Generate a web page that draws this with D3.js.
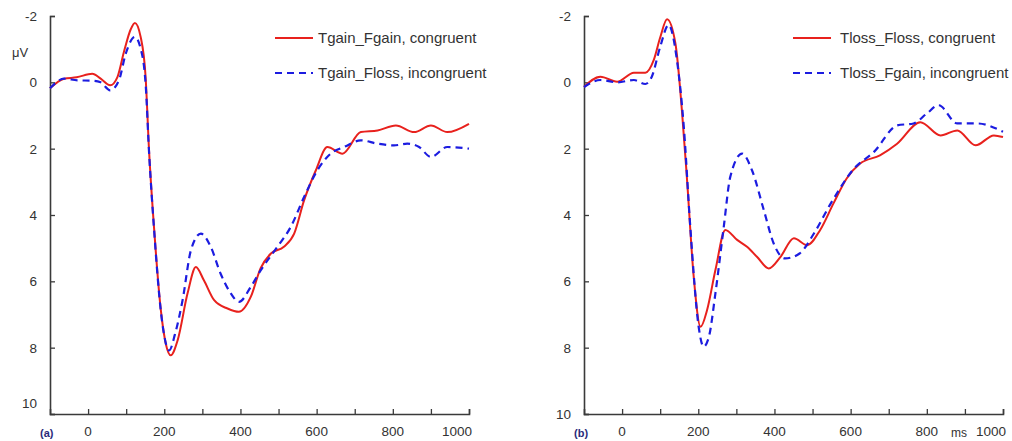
<!DOCTYPE html>
<html>
<head>
<meta charset="utf-8">
<script src="https://cdn.jsdelivr.net/npm/d3@7/dist/d3.min.js"></script>
<style>
  html, body { margin: 0; padding: 0; background: #fff; }
  svg { display: block; font-family: "Liberation Sans", Arial, sans-serif; }
</style>
</head>
<body>
<svg id="chart" width="1012" height="441"></svg>
<script>
// ERP waveforms: time (ms) and amplitude (µV, negative up)
const xTicks = [0, 100, 200, 300, 400, 500, 600, 700, 800, 900, 1000];
const xTickLabels = [0, 200, 400, 600, 800, 1000];
const yTicks = [-2, 0, 2, 4, 6, 8, 10];

// Panel (a)
const gainCongruentT = [-100, -63, -30, 11, 33, 58, 77, 95, 112, 123, 138, 151, 160, 173, 191, 204, 217, 235, 261, 283, 304, 331, 366, 396, 427, 453, 480, 514, 541, 567, 598, 628, 668, 716, 760, 808, 856, 900, 943, 1000];
const gainCongruentV = [0.18, -0.11, -0.15, -0.26, -0.11, 0.09, -0.16, -0.96, -1.6, -1.79, -1.37, -0.16, 2.05, 4.36, 6.87, 7.88, 8.23, 7.78, 6.37, 5.57, 5.97, 6.57, 6.82, 6.92, 6.47, 5.6, 5.16, 4.96, 4.56, 3.56, 2.65, 1.95, 2.15, 1.5, 1.45, 1.3, 1.5, 1.3, 1.5, 1.25];
const gainIncongruentT = [-100, -63, -28, 11, 33, 58, 81, 99, 123, 137, 151, 160, 173, 191, 213, 228, 248, 270, 296, 322, 348, 375, 396, 427, 453, 497, 532, 567, 602, 637, 672, 716, 760, 803, 838, 869, 900, 943, 1000];
const gainIncongruentV = [0.18, -0.11, -0.06, -0.05, 0, 0.24, -0.06, -0.87, -1.37, -1.06, 0.04, 2.1, 4.4, 6.9, 8.08, 7.6, 6.57, 5.06, 4.56, 4.96, 5.77, 6.37, 6.62, 6.17, 5.67, 4.96, 4.36, 3.46, 2.65, 2.15, 1.95, 1.75, 1.85, 1.9, 1.85, 1.95, 2.25, 1.95, 2.0];

// Panel (b)
const lossCongruentT = [-100, -57, -13, 31, 61, 83, 100, 118, 140, 157, 170, 188, 206, 223, 245, 271, 302, 328, 354, 385, 416, 451, 486, 520, 555, 590, 625, 677, 722, 783, 836, 880, 928, 976, 1000];
const lossCongruentV = [0.14, -0.17, -0.02, -0.29, -0.29, -0.67, -1.35, -1.9, -1.17, 0.84, 2.85, 5.86, 7.37, 6.87, 5.66, 4.45, 4.75, 4.96, 5.26, 5.61, 5.26, 4.7, 4.91, 4.45, 3.65, 2.89, 2.45, 2.2, 1.85, 1.2, 1.6, 1.45, 1.9, 1.6, 1.65];
const lossIncongruentT = [-100, -57, -13, 31, 61, 78, 100, 122, 144, 162, 179, 201, 214, 228, 245, 267, 284, 315, 341, 372, 398, 428, 466, 504, 548, 609, 662, 722, 765, 800, 831, 880, 932, 1000];
const lossIncongruentV = [0.14, -0.07, 0, -0.07, 0.05, -0.17, -1.07, -1.73, -0.67, 1.34, 4.35, 7.37, 7.97, 7.67, 6.36, 4.35, 2.85, 2.15, 2.65, 3.85, 4.86, 5.31, 5.16, 4.55, 3.65, 2.6, 2.09, 1.3, 1.24, 0.94, 0.69, 1.24, 1.24, 1.49];

const legendA = ["Tgain_Fgain, congruent", "Tgain_Floss, incongruent"];
const legendB = ["Tloss_Floss, congruent", "Tloss_Fgain, incongruent"];

const RED = "#e8211d";
const BLUE = "#1c1ce0";
const AXIS = "#3a3a3a";

const svg = d3.select("#chart");

const zip = (ts, vs) => ts.map((t, i) => [t, vs[i]]);

function drawPanel(cfg) {
  const x = d3.scaleLinear().domain([-100, 1000]).range([cfg.left, cfg.right]);
  const y = d3.scaleLinear().domain([-2, 10]).range([16, 414]);
  const g = svg.append("g");

  const line = d3.line()
    .x(d => x(d[0]))
    .y(d => y(d[1]))
    .curve(d3.curveMonotoneX);

  // x axis with inward ticks
  const xAxis = g.append("g")
    .attr("transform", `translate(0,${y(10)})`)
    .call(d3.axisTop(x).tickValues(xTicks).tickSizeOuter(0).tickSize(5).tickFormat(""));
  xAxis.select(".domain").attr("stroke", AXIS).attr("stroke-width", 1.6);
  xAxis.selectAll(".tick line").attr("stroke", AXIS).attr("stroke-width", 1.3);

  // the last label sits flush against the axis end
  g.selectAll(".xlab").data(xTickLabels).enter().append("text")
    .attr("x", d => d === 1000 ? x(d) + 3 : x(d)).attr("y", 436)
    .attr("text-anchor", d => d === 1000 ? "end" : "middle")
    .attr("font-size", 13.5).attr("fill", "#333")
    .text(d => d);

  // y axis with inward ticks
  const yAxis = g.append("g")
    .attr("transform", `translate(${x(-100)},0)`)
    .call(d3.axisRight(y).tickValues(yTicks).tickSizeOuter(0).tickSize(5).tickFormat(""));
  yAxis.select(".domain").attr("stroke", AXIS).attr("stroke-width", 1.6);
  yAxis.selectAll(".tick line").attr("stroke", AXIS).attr("stroke-width", 1.3);

  g.selectAll(".ylab").data(yTicks).enter().append("text")
    .attr("x", x(-100) - 13).attr("y", d => y(d) + 5 - (d === 10 ? cfg.bottomLabelLift : 0))
    .attr("text-anchor", "end")
    .attr("font-size", 13.5).attr("fill", "#333")
    .text(d => d);

  // waveforms
  g.append("path").datum(zip(cfg.t1, cfg.v1))
    .attr("d", line).attr("fill", "none")
    .attr("stroke", RED).attr("stroke-width", 2);
  g.append("path").datum(zip(cfg.t2, cfg.v2))
    .attr("d", line).attr("fill", "none")
    .attr("stroke", BLUE).attr("stroke-width", 2.2)
    .attr("stroke-dasharray", "7,5");

  // legend
  const lg = g.append("g");
  lg.append("line").attr("x1", cfg.legX).attr("x2", cfg.legX + 38)
    .attr("y1", 38).attr("y2", 38).attr("stroke", RED).attr("stroke-width", 2);
  lg.append("line").attr("x1", cfg.legX).attr("x2", cfg.legX + 38)
    .attr("y1", 73).attr("y2", 73).attr("stroke", BLUE).attr("stroke-width", 2.2)
    .attr("stroke-dasharray", "7,5");
  lg.append("text").attr("x", cfg.legTextX).attr("y", 43)
    .attr("font-size", 15).attr("fill", "#333").text(cfg.legend[0]);
  lg.append("text").attr("x", cfg.legTextX).attr("y", 78)
    .attr("font-size", 15).attr("fill", "#333").text(cfg.legend[1]);

  // panel tag
  g.append("text").attr("x", cfg.left - 10).attr("y", 437)
    .attr("font-size", 11).attr("font-weight", "bold").attr("fill", "#2b2b7a")
    .text(cfg.tag);

  return { x, y, g };
}

drawPanel({
  left: 50, right: 469,
  t1: gainCongruentT, v1: gainCongruentV,
  t2: gainIncongruentT, v2: gainIncongruentV,
  legend: legendA, legX: 275, legTextX: 318,
  tag: "(a)", bottomLabelLift: 11
});

const pb = drawPanel({
  left: 584, right: 1003,
  t1: lossCongruentT, v1: lossCongruentV,
  t2: lossIncongruentT, v2: lossIncongruentV,
  legend: legendB, legX: 793, legTextX: 840,
  tag: "(b)", bottomLabelLift: 0
});

// unit labels
svg.append("text").attr("x", 12).attr("y", 57)
  .attr("font-size", 13).attr("fill", "#333").text("μV");
pb.g.append("text").attr("x", 951).attr("y", 437)
  .attr("font-size", 12).attr("fill", "#333").text("ms");
</script>
</body>
</html>
